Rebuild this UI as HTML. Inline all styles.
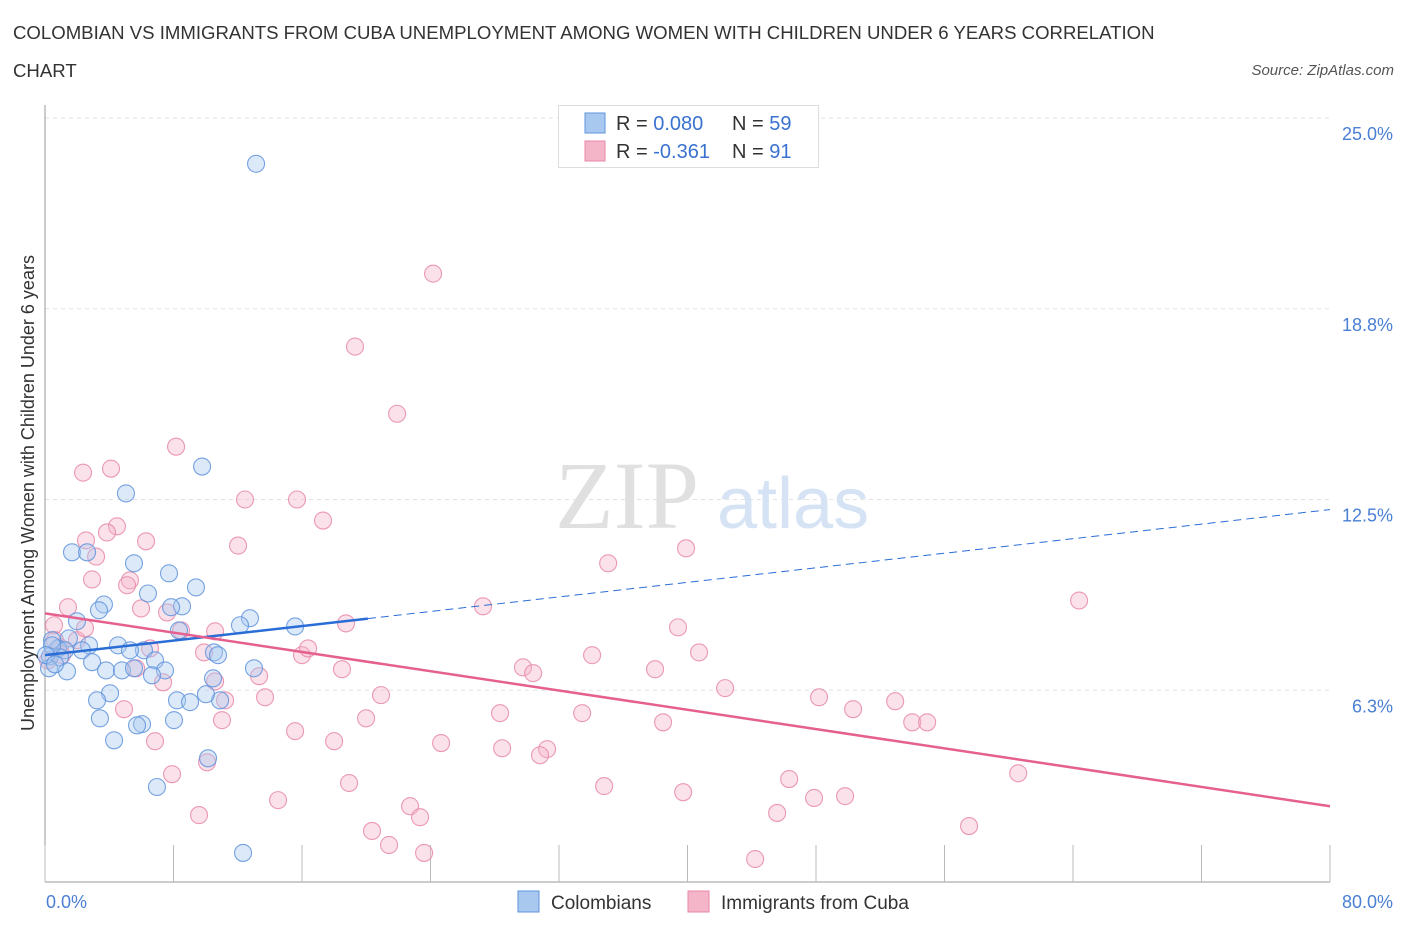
<!DOCTYPE html>
<html><head><meta charset="utf-8">
<style>
body{margin:0;background:#fff;font-family:"Liberation Sans",sans-serif;}
#wrap{position:relative;width:1406px;height:930px;overflow:hidden;}
.title{position:absolute;left:13px;top:14px;font-size:18.6px;color:#333;line-height:38px;width:1170px;}
.src{position:absolute;right:12px;top:62px;font-size:15px;color:#555;font-style:italic;}
</style></head><body>
<div id="wrap">
<div class="title">COLOMBIAN VS IMMIGRANTS FROM CUBA UNEMPLOYMENT AMONG WOMEN WITH CHILDREN UNDER 6 YEARS CORRELATION CHART</div>
<div class="src">Source: ZipAtlas.com</div>
<svg id="chart" width="1406" height="930" style="position:absolute;left:0;top:0"></svg>
</div>
<script>
const yTicks=[6.25,12.5,18.75,25];
const yTickLabels=["6.3%","12.5%","18.8%","25.0%"];
const xTickVals=[0,8,16,24,32,40,48,56,64,72,80];
const blueX=[13.14,9.78,5.04,1.68,2.62,5.54,7.72,9.40,6.41,8.53,3.67,3.36,7.85,12.76,1.99,12.14,15.57,8.34,1.49,2.74,4.55,6.16,5.29,0.81,0.44,1.25,2.30,0.31,0.93,2.93,6.85,10.52,10.77,3.80,4.79,5.54,7.47,6.66,0.25,1.37,13.01,10.46,4.05,3.24,8.22,9.03,10.90,10.02,3.42,8.03,6.04,5.73,4.30,10.15,6.97,12.33,0.44,0.06,0.62];
const blueY=[23.5,13.58,12.70,10.77,10.77,10.41,10.08,9.62,9.42,9.00,9.06,8.87,8.97,8.61,8.51,8.38,8.34,8.21,7.95,7.72,7.72,7.56,7.56,7.62,7.89,7.56,7.56,7.36,7.33,7.17,7.23,7.49,7.40,6.90,6.90,6.97,6.90,6.74,6.97,6.87,6.97,6.64,6.15,5.92,5.92,5.86,5.92,6.12,5.33,5.27,5.14,5.10,4.61,4.02,3.08,0.92,7.72,7.40,7.10];
const pinkX=[24.16,19.30,21.92,8.16,2.37,4.11,12.45,15.69,4.48,17.31,3.86,6.29,12.02,2.55,3.18,39.91,35.06,2.93,5.29,5.11,1.43,5.98,7.60,27.27,64.38,18.74,39.41,8.47,10.59,0.56,1.99,6.54,9.90,16.00,16.38,34.06,40.72,1.06,5.67,18.49,29.76,30.39,37.98,13.33,7.35,10.59,11.21,13.70,20.92,42.34,48.19,52.93,28.33,33.44,50.31,19.99,38.48,53.99,54.92,4.92,11.02,15.57,18.00,6.85,24.66,28.46,31.26,30.82,10.09,7.91,60.59,46.33,18.93,34.81,39.73,49.81,47.88,14.51,22.73,23.35,9.59,45.58,57.53,20.36,21.42,23.60,44.21,0.62,0.19,0.93,2.49];
const pinkY=[19.90,17.51,15.31,14.23,13.38,13.51,12.50,12.50,11.62,11.81,11.42,11.13,10.99,11.16,10.63,10.90,10.41,9.88,9.85,9.69,8.97,8.93,8.80,9.00,9.19,8.44,8.31,8.21,8.18,8.38,7.89,7.62,7.49,7.40,7.62,7.40,7.49,7.40,6.97,6.94,7.00,6.81,6.94,6.71,6.51,6.54,5.92,6.02,6.09,6.32,6.02,5.89,5.50,5.50,5.63,5.33,5.20,5.20,5.20,5.63,5.27,4.91,4.58,4.58,4.52,4.35,4.32,4.12,3.89,3.50,3.53,3.34,3.21,3.11,2.91,2.78,2.72,2.65,2.45,2.09,2.16,2.23,1.80,1.64,1.18,0.92,0.72,7.89,7.23,7.66,8.28];
const blueTrend=[7.4,12.17];
const pinkTrend=[8.77,2.45];
const blueSolidEnd=20.1;

const NS="http://www.w3.org/2000/svg";
const svg=document.getElementById('chart');
const X=v=>45+v*(1285/80);
const Y=v=>881-v*(763/25);
function mk(t,a,p){const e=document.createElementNS(NS,t);for(const k in a)e.setAttribute(k,a[k]);(p||svg).appendChild(e);return e;}

yTicks.forEach((t,i)=>{
 const g=mk('line',{x1:45,x2:1330,y1:Y(t),y2:Y(t),stroke:'#e2e2e2','stroke-dasharray':'4,4'});
 
 
 const l=mk('text',{x:1393,y:Y(t)+22,'text-anchor':'end','font-size':18,fill:'#4a7fd4','font-family':'Liberation Sans'});
 l.textContent=yTickLabels[i];
 
 
});
const ya=mk('line',{x1:45,x2:45,y1:105,y2:882,stroke:'#999','stroke-width':1});


const xa=mk('line',{x1:45,x2:1330,y1:882,y2:882,stroke:'#999'});


xTickVals.forEach(v=>{
 const t=mk('line',{x1:X(v),x2:X(v),y1:845,y2:882,stroke:'#bbb'});
 
 
});
const wm=mk('text',{x:555,y:528,'font-size':96,fill:'#e0e0e0','font-family':'Liberation Serif'});
wm.textContent='ZIP';


const wm2=mk('text',{x:717,y:528,'font-size':72,fill:'#d5e3f5','font-family':'Liberation Sans'});
wm2.textContent='atlas';


function pts(xs,ys,fill,stroke,name){
 xs.forEach((x,i)=>{
  const c=mk('circle',{cx:X(x),cy:Y(ys[i]),r:8.5,fill:fill,'fill-opacity':0.4,stroke:stroke,'stroke-width':1.1,'stroke-opacity':0.85});
  
  
 });
}
pts(pinkX,pinkY,'#f5b5c8','#e888a8','cuba-point');
pts(blueX,blueY,'#a8c8f0','#5f93dc','colombian-point');
const bt=v=>blueTrend[0]+(blueTrend[1]-blueTrend[0])*v/80;
const l1=mk('line',{x1:X(0),y1:Y(bt(0)),x2:X(blueSolidEnd),y2:Y(bt(blueSolidEnd)),stroke:'#2a6dd6','stroke-width':2.5});


const l2=mk('line',{x1:X(blueSolidEnd),y1:Y(bt(blueSolidEnd)),x2:X(80),y2:Y(bt(80)),stroke:'#2a6dd6','stroke-width':1,'stroke-dasharray':'8,5'});


const l3=mk('line',{x1:X(0),y1:Y(pinkTrend[0]),x2:X(80),y2:Y(pinkTrend[1]),stroke:'#e5608e','stroke-width':2.5});


[[0,'0.0%','start',46],[80,'80.0%','end',1393]].forEach(d=>{
 const t=mk('text',{x:d[3],y:908,'text-anchor':d[2],'font-size':18,fill:'#4a7fd4','font-family':'Liberation Sans'});
 t.textContent=d[1];
 
 
});
const yt=mk('text',{x:0,y:0,transform:'translate(34,493) rotate(-90)','text-anchor':'middle','font-size':18,fill:'#333','font-family':'Liberation Sans'});
yt.textContent='Unemployment Among Women with Children Under 6 years';


const lb=mk('rect',{x:558.5,y:105.5,width:260,height:62,fill:'#fff',stroke:'#ddd'});


[[123,'#a8c8f0','#5f93dc','0.080','59'],[151,'#f5b5c8','#e888a8','-0.361','91']].forEach(d=>{
 const r=mk('rect',{x:585,y:d[0]-10,width:20,height:20,fill:d[1],stroke:d[2]});
 
 
 const t=mk('text',{x:616,y:d[0]+7,'font-size':20,fill:'#333','font-family':'Liberation Sans'});
 t.innerHTML='R = <tspan fill="#3a72d0">'+d[3]+'</tspan>';
 
 
 const n=mk('text',{x:732,y:d[0]+7,'font-size':20,fill:'#333','font-family':'Liberation Sans'});
 n.innerHTML='N = <tspan fill="#3a72d0">'+(d[4]=='91'?' ':'')+d[4]+'</tspan>';
 
 
});
[[518,'#a8c8f0','#5f93dc','Colombians','legend-colombians'],[688,'#f5b5c8','#e888a8','Immigrants from Cuba','legend-cuba']].forEach(d=>{
 const r=mk('rect',{x:d[0],y:891,width:21,height:21,fill:d[1],stroke:d[2]});
 
 
 const t=mk('text',{x:d[0]+33,y:909,'font-size':19,fill:'#333','font-family':'Liberation Sans'});
 t.textContent=d[3];
 
 
});
</script>
</body></html>
